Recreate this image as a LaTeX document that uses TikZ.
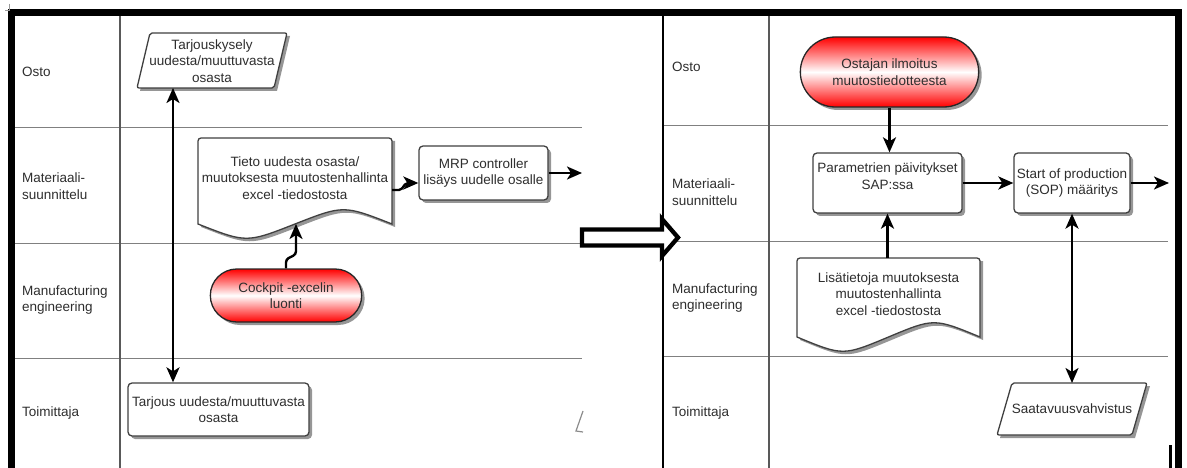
\documentclass[tikz,border=0pt]{standalone}
\usepackage{fontspec}
\setmainfont{Liberation Sans}
\usetikzlibrary{arrows.meta,shapes.misc,shadows,calc}

\tikzset{
 every node/.style={font=\fontsize{13.5}{16.5}\selectfont, text=black!82},
 lane/.style={draw=black!50, line width=1pt},
 coldiv/.style={draw=black!65, line width=1.2pt},
 lbl/.style={anchor=west, align=left, inner sep=0pt},
 txt/.style={align=center, inner sep=0pt},
 shd/.style={drop shadow={shadow xshift=3pt, shadow yshift=-3pt, fill=black!55, opacity=0.75}},
 box/.style={draw=black!75, line width=1.3pt, rounded corners=4pt, fill=white, shd, align=center, inner sep=1pt},
 term/.style={rounded rectangle, draw=black!85, line width=1.3pt, top color=red, bottom color=red, middle color=white, shd, align=center},
 arr/.style={draw=black, line width=2.4pt, -{Stealth[length=15pt,width=13pt,inset=4pt]}},
 darr/.style={draw=black, line width=2.4pt, {Stealth[length=15pt,width=13pt,inset=4pt]}-{Stealth[length=15pt,width=13pt,inset=4pt]}},
 outl/.style={draw=black!75, line width=1.3pt, fill=white},
 shfill/.style={fill=black!55, opacity=0.75},
}

\begin{document}
\begin{tikzpicture}[x=1pt,y=-1pt]
\useasboundingbox (0,0) rectangle (1187,468);

% lane lines
\draw[lane] (11,128) -- (582,128);
\draw[lane] (11,243) -- (582,243);
\draw[lane] (11,358) -- (582,358);
\draw[lane] (663,126) -- (1168,126);
\draw[lane] (663,241) -- (1168,241);
\draw[lane] (663,356) -- (1168,356);
\draw[coldiv] (120,13) -- (120,468);
\draw[coldiv] (769,13) -- (769,468);
\draw[black, line width=2pt] (663,13) -- (663,468);

% frame
\draw[line width=7pt, miter limit=10] (11,470) -- (11,13) -- (1178,13) -- (1178,470);
\draw[line width=3pt] (1170,445) -- (1170,470);
\draw[black!40, line width=0.8pt] (9,4) -- (9,11) (5,10) -- (10,10);

% lane labels
\node[lbl] (l1) at (22,72) {Osto};
\node[lbl] (l2) at (22,186) {Materiaali-\\suunnittelu};
\node[lbl] (l3) at (22,300) {Manufacturing\\engineering};
\node[lbl] (l4) at (22,413) {Toimittaja};
\node[lbl] (r1) at (672,67) {Osto};
\node[lbl] (r2) at (672,192) {Materiaali-\\suunnittelu};
\node[lbl] (r3) at (672,298) {Manufacturing\\engineering};
\node[lbl] (r4) at (672,413) {Toimittaja};

% ---- left panel ----
\fill[shfill, shift={(3,3)}] (137,88) -- (150,33) -- (287,33) -- (274,88) -- cycle;
\draw[outl, rounded corners=2pt] (137,88) -- (150,33) -- (287,33) -- (274,88) -- cycle;
\node[txt] (tark) at (212,61) {Tarjouskysely\\uudesta/muuttuvasta\\osasta};
\coordinate (tarkb) at (173,88);

\node[box, minimum width=181pt, minimum height=53pt] (tarj) at (218.5,409.5) {Tarjous uudesta/muuttuvasta\\osasta};
\draw[darr] (tarkb) -- (tarkb |- tarj.north);

\fill[shfill, shift={(3,3)}] (198,224) -- (198,138) -- (392,138) -- (392,224) .. controls (343.5,205) .. (295,224) .. controls (246.5,243) .. (198,224) -- cycle;
\draw[outl] (198,224) [rounded corners=3pt] -- (198,138) -- (392,138) [sharp corners] -- (392,224) .. controls (343.5,205) .. (295,224) .. controls (246.5,243) .. (198,224) -- cycle;
\node[txt] (doc1) at (295,178) {Tieto uudesta osasta/\\muutoksesta muutostenhallinta\\excel -tiedostosta};
\coordinate (doc1b) at (296,224);
\coordinate (doc1r) at (392,190);

\node[term, minimum width=158pt, minimum height=53pt] (cock) at (286,295.5) {Cockpit -excelin\\luonti};
\draw[arr, rounded corners=3pt] (cock.north) -- ++(0,-9) -- ++(10,-5) -- (doc1b);

\node[box, minimum width=129pt, minimum height=54pt] (mrp) at (483.5,173) {MRP controller\\lisäys uudelle osalle};
\draw[arr, rounded corners=2pt] (doc1r) -- ++(9,0) -- ++(5,-7) -- ($(mrp.west)+(0,10)$);
\coordinate (out1) at (582,173);
\draw[arr] (mrp.east) -- (out1);

\draw[black!45, line width=1.2pt] (583,411) -- (576,431) -- (583,432);

% transition arrow
\draw[line width=4.3pt, fill=white, miter limit=10] (582,229.5) -- (662,229.5) -- (662,219) -- (678,237.5) -- (662,256) -- (662,245.5) -- (582,245.5) -- cycle;

% ---- right panel ----
\node[term, minimum width=185pt, minimum height=70pt] (ost) at (889.5,72) {Ostajan ilmoitus\\muutostiedotteesta};

\node[box, minimum width=149pt, minimum height=60pt] (par) at (887.5,183) {};
\node[txt] (part) at (887.5,176) {Parametrien päivitykset\\SAP:ssa};
\draw[arr] (ost.south) -- (ost.south |- par.north);

\node[box, minimum width=116pt, minimum height=60pt] (sop) at (1072,183) {Start of production\\(SOP) määritys};
\draw[arr] (par.east) -- (sop.west);
\coordinate (out2) at (1169,183);
\draw[arr] (sop.east) -- (out2);

\fill[shfill, shift={(3,3)}] (797,337) -- (797,258) -- (980,258) -- (980,337) .. controls (934,318) .. (888.5,337) .. controls (843,356) .. (797,337) -- cycle;
\draw[outl] (797,337) [rounded corners=3pt] -- (797,258) -- (980,258) [sharp corners] -- (980,337) .. controls (934,318) .. (888.5,337) .. controls (843,356) .. (797,337) -- cycle;
\node[txt] (doc2) at (888.5,294) {Lisätietoja muutoksesta\\muutostenhallinta\\excel -tiedostosta};
\coordinate (doc2t) at (887.5,258);
\draw[arr] (doc2t) -- (doc2t |- par.south);

\fill[shfill, shift={(3,3)}] (997,435) -- (1012,383) -- (1147,383) -- (1132,435) -- cycle;
\draw[outl, rounded corners=2pt] (997,435) -- (1012,383) -- (1147,383) -- (1132,435) -- cycle;
\node[txt] (saat) at (1072,409) {Saatavuusvahvistus};
\coordinate (saatt) at (1072,383);
\draw[darr] (sop.south) -- (saatt);
\end{tikzpicture}
\end{document}
